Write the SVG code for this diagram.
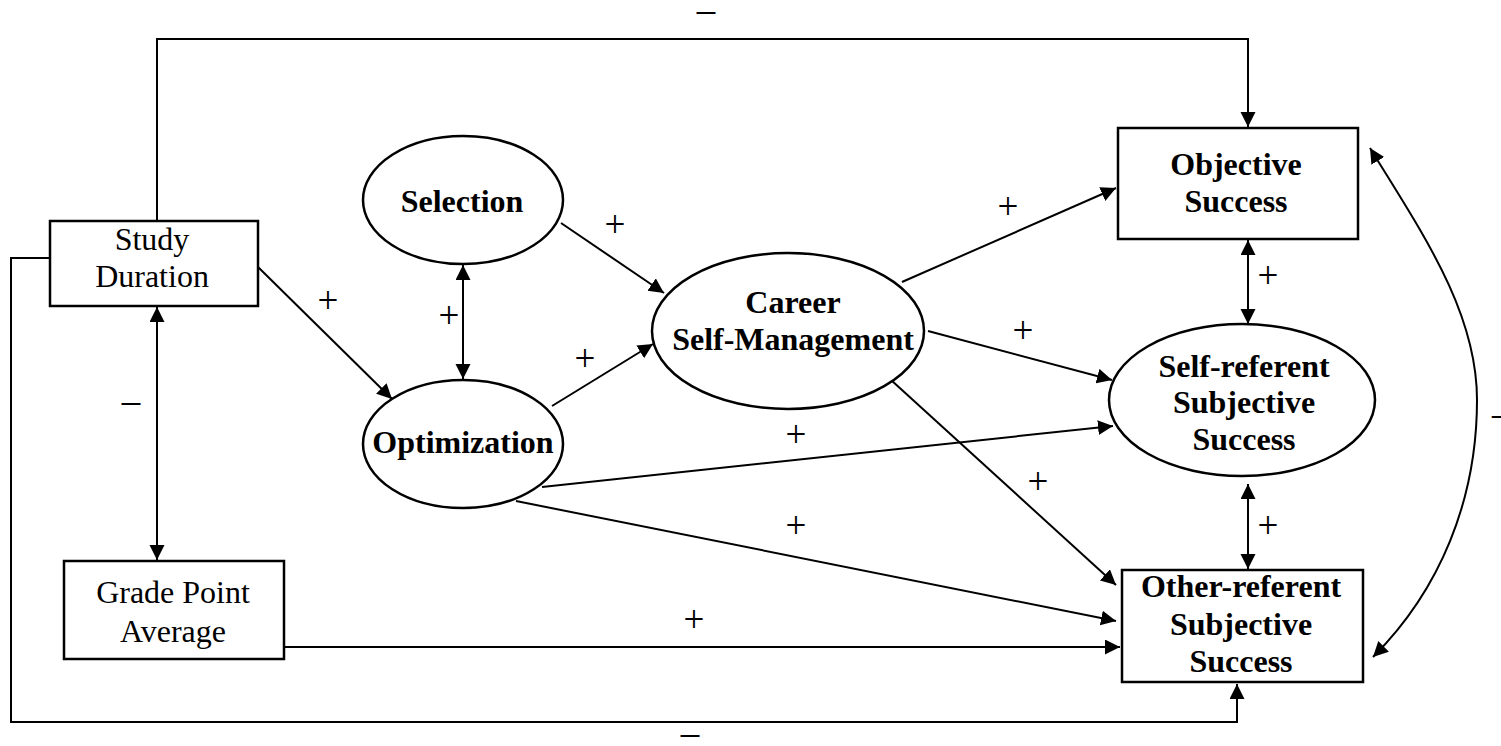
<svg xmlns="http://www.w3.org/2000/svg" width="1501" height="746" viewBox="0 0 1501 746">
<defs>
<marker id="ah" markerUnits="userSpaceOnUse" markerWidth="16" markerHeight="16" refX="15" refY="7.5" orient="auto-start-reverse">
<path d="M0,0 L15,7.5 L0,15 z" fill="#000"/>
</marker>
<style>
.box{fill:#fff;stroke:#000;stroke-width:2.5}
.t{font-family:"Liberation Serif","Times New Roman",serif;font-size:32px;text-anchor:middle;fill:#000}
.b{font-weight:bold}
.lbl{font-family:"Liberation Serif","Times New Roman",serif;font-size:37px;text-anchor:middle;fill:#000}
.c{fill:none;stroke:#000;stroke-width:2}
.a{marker-end:url(#ah)}
.d{marker-start:url(#ah);marker-end:url(#ah)}
</style>
</defs>
<rect width="1501" height="746" fill="#fff"/>
<g id="connectors">
<polyline class="c a" points="157,221 157,39 1248,39 1248,127"/>
<polyline class="c a" points="50,258 11,258 11,722 1237,722 1237,684"/>
<line class="c d" x1="157" y1="307" x2="157" y2="560"/>
<line class="c a" x1="258" y1="267" x2="392" y2="399"/>
<line class="c d" x1="463" y1="265" x2="463" y2="379"/>
<line class="c a" x1="561" y1="223" x2="664" y2="293"/>
<line class="c a" x1="552" y1="406" x2="653" y2="344"/>
<line class="c a" x1="902" y1="282" x2="1116" y2="188"/>
<line class="c a" x1="928" y1="331" x2="1112" y2="380"/>
<line class="c a" x1="891" y1="380" x2="1116" y2="585"/>
<line class="c a" x1="542" y1="487" x2="1113" y2="426"/>
<line class="c a" x1="516" y1="501" x2="1116" y2="621"/>
<line class="c a" x1="284" y1="647" x2="1120" y2="647"/>
<line class="c d" x1="1248" y1="240" x2="1248" y2="324"/>
<line class="c d" x1="1248" y1="484" x2="1248" y2="569"/>
<path class="c d" d="M1370,148 C1420,230 1477,310 1477,400 C1477,500 1440,590 1373,657"/>
<text class="lbl" x="706" y="22">–</text>
<text class="lbl" x="690" y="745">–</text>
<text class="lbl" x="131" y="413">–</text>
<text class="lbl" x="1492" y="426" style="text-anchor:start">–</text>
<text class="lbl" x="328" y="313">+</text>
<text class="lbl" x="615" y="237">+</text>
<text class="lbl" x="449" y="328">+</text>
<text class="lbl" x="585" y="371">+</text>
<text class="lbl" x="1008" y="219">+</text>
<text class="lbl" x="1023" y="343">+</text>
<text class="lbl" x="796" y="447">+</text>
<text class="lbl" x="1038" y="494">+</text>
<text class="lbl" x="796" y="538">+</text>
<text class="lbl" x="694" y="632">+</text>
<text class="lbl" x="1268" y="288">+</text>
<text class="lbl" x="1268" y="538">+</text>
</g>
<g id="study-duration">
<rect class="box" x="50" y="221" width="208" height="85"/>
<text class="t" x="152" y="250">Study</text>
<text class="t" x="152" y="287">Duration</text>
</g>
<g id="gpa">
<rect class="box" x="64" y="561" width="220" height="98"/>
<text class="t" x="173" y="603">Grade Point</text>
<text class="t" x="173" y="642">Average</text>
</g>
<g id="selection">
<ellipse class="box" cx="463" cy="200" rx="100" ry="64"/>
<text class="t b" x="462" y="212">Selection</text>
</g>
<g id="optimization">
<ellipse class="box" cx="463" cy="444" rx="100" ry="64"/>
<text class="t b" x="463" y="453">Optimization</text>
</g>
<g id="career">
<ellipse class="box" cx="788" cy="331" rx="136" ry="78"/>
<text class="t b" x="793" y="313">Career</text>
<text class="t b" x="793" y="350">Self-Management</text>
</g>
<g id="objective">
<rect class="box" x="1118" y="128" width="240" height="111"/>
<text class="t b" x="1236" y="175">Objective</text>
<text class="t b" x="1236" y="212">Success</text>
</g>
<g id="self-referent">
<ellipse class="box" cx="1242" cy="400" rx="133" ry="76"/>
<text class="t b" x="1244" y="377">Self-referent</text>
<text class="t b" x="1244" y="413">Subjective</text>
<text class="t b" x="1244" y="450">Success</text>
</g>
<g id="other-referent">
<rect class="box" x="1122" y="570" width="241" height="112"/>
<text class="t b" x="1241" y="597">Other-referent</text>
<text class="t b" x="1241" y="635">Subjective</text>
<text class="t b" x="1241" y="672">Success</text>
</g>
</svg>
